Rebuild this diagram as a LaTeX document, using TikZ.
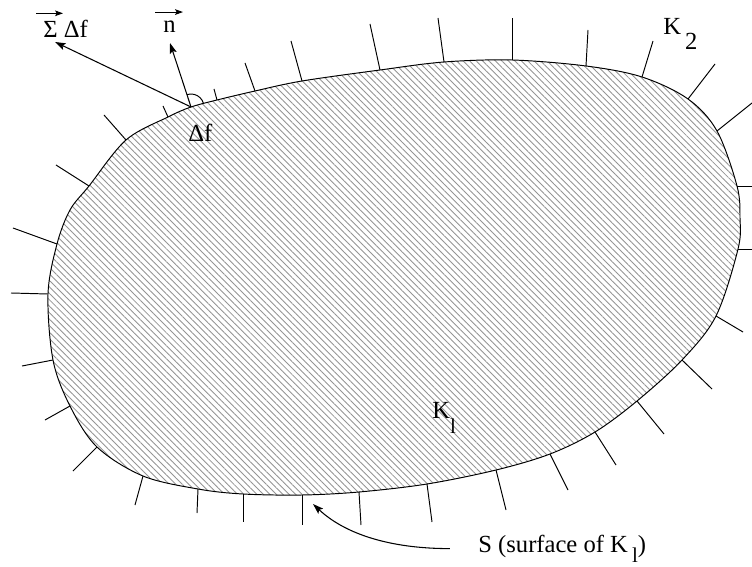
\documentclass[tikz,border=0pt]{standalone}
\usepackage{fontspec}
\setmainfont{Liberation Serif}
\usetikzlibrary{arrows.meta,patterns.meta,calc}

\begin{document}
\begin{tikzpicture}[
  x=0.2mm, y=-0.2mm,
  body/.style={draw, line width=0.55pt, pattern={Lines[angle=-45, distance=2.6pt, line width=0.5pt]}, pattern color=black!42},
  hair/.style={line width=0.55pt},
  arr/.style={-{Stealth[length=6pt, width=4pt, inset=1.2pt]}, line width=0.6pt},
  vecarr/.style={-{Stealth[length=4.5pt, width=3.2pt, inset=0.9pt]}, line width=0.6pt},
  lbl/.style={anchor=base west, inner sep=0pt},
  every node/.style={font=\fontsize{14}{16}\selectfont}]
  \useasboundingbox (0,0) rectangle (752,567);
  % body K1, bounded by the surface S
  \draw[body] plot[smooth cycle, tension=0.55] coordinates {
    (191,107) (217,100) (255,91) (302,81) (380,70) (444,62) (512,60)
    (586,66) (642,77) (688,99) (717,131) (737,186) (740,218) (738,249)
    (716,316) (682,360) (637,401) (595,432) (550,454) (496,470) (427,484)
    (359,492) (302,495) (243,494) (198,489) (143,476) (97,447) (70,406)
    (53,360) (48,294) (57,244) (70,210) (89,186) (126,140) (168,117)};
  % short normals standing on the surface
  \foreach \bx/\by/\ox/\oy in {168/117/163/106, 217/100/214/89, 255/91/245/63,
      302/81/291/41, 380/70/370/24, 444/62/438/18, 512/60/512/18, 586/66/588/30,
      642/77/653/41, 688/99/715/64, 717/131/752/103, 737/186/752/186,
      738/249/752/249, 716/316/743/332, 682/360/712/389, 637/401/664/434,
      595/432/616/465, 550/454/568/490, 496/470/506/510, 427/484/432/522,
      359/492/361/525, 302/495/302/525, 243/494/243/522, 198/489/197/513,
      143/476/135/505, 97/447/73/471, 70/406/45/420, 53/360/22/366,
      48/294/11/293, 57/244/13/228, 89/186/56/165, 126/140/104/115}
    \draw[hair] (\bx,\by) -- (\ox,\oy);
  % surface element and the two vectors
  \coordinate (df) at (191,107);
  \coordinate (ntip) at (170,43);
  \coordinate (sumtip) at (55,42);
  \draw[arr] (df) -- (ntip);
  \draw[arr] (df) -- (sumtip);
  \draw[hair] (df) ++(-16:13) arc[start angle=-16, end angle=-108, radius=13];
  \node[lbl] (dflbl) at (188,142) {Δf};
  \node[lbl] (sum) at (43,38) {Σ Δf};
  \draw[vecarr] ([shift={(-7,-7)}]sum.north west) -- ++(27,0);
  \node[lbl] (nlbl) at (163,33) {n};
  \draw[vecarr] ([shift={(-8,-9)}]nlbl.north west) -- ++(28,0);
  % the two regions
  \node[lbl] (k2) at (663,35) {K\,\raisebox{-8.5pt}{2}};
  \node[lbl] (k1) at (432,418) {K\raisebox{-9pt}{\fontsize{12}{13}\selectfont l}};
  % caption for S
  \node[lbl] (cap) at (478,552) {S (surface of K\,\raisebox{-6pt}{\fontsize{12}{13}\selectfont l})};
  \coordinate (stip) at (313,504);
  \draw[arr] ([xshift=-16]cap.west) .. controls +(-60,0) and +(32,30) .. (stip);
\end{tikzpicture}
\end{document}
